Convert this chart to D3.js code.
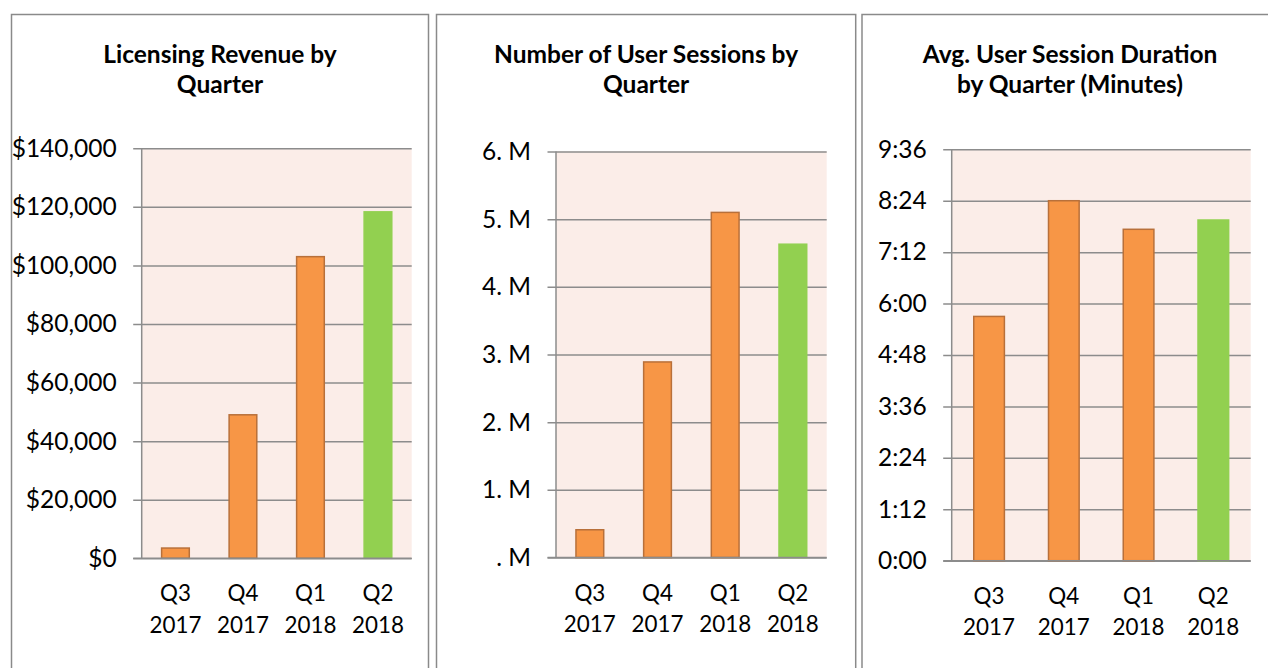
<!DOCTYPE html>
<html>
<head>
<meta charset="utf-8">
<script src="https://cdn.jsdelivr.net/npm/d3@7"></script>
<style>
  html, body { margin: 0; padding: 0; background: #ffffff; }
  svg { display: block; font-family: Lato, "Open Sans", sans-serif; }
</style>
</head>
<body>
<svg id="chart" width="1268" height="668"></svg>
<script>
// ---- data ----
const quarters = ["Q3 2017", "Q4 2017", "Q1 2018", "Q2 2018"];
const revenue = [3500, 49000, 103000, 118300];
const sessions = [410000, 2890000, 5100000, 4630000];
const durationSeconds = [342, 504, 464, 477];
const isCurrent = [false, false, false, true];

const revenueTicks = [0, 20000, 40000, 60000, 80000, 100000, 120000, 140000];
const sessionTicks = [0, 1000000, 2000000, 3000000, 4000000, 5000000, 6000000];
const durationTicks = [0, 72, 144, 216, 288, 360, 432, 504, 576];

const titles = [
  ["Licensing Revenue by", "Quarter"],
  ["Number of User Sessions by", "Quarter"],
  ["Avg. User Session Duration", "by Quarter (Minutes)"]
];

// ---- formatters ----
const fmtRevenue = v => "$" + d3.format(",")(v);
const fmtSessions = v => (v === 0 ? "" : String(v / 1e6)) + ". M";
const fmtDuration = v => Math.floor(v / 60) + ":" + String(v % 60).padStart(2, "0");

// ---- layout ----
const panels = [
  { box: [11.5, 14.5, 417, 700], plot: { x0: 141.7, x1: 411.7, y0: 148.3, y1: 558.3 },
    values: revenue, ticks: revenueTicks, fmt: fmtRevenue, title: titles[0] },
  { box: [436.5, 14.5, 419.2, 700], plot: { x0: 556, x1: 826.7, y0: 151.5, y1: 557.5 },
    values: sessions, ticks: sessionTicks, fmt: fmtSessions, title: titles[1] },
  { box: [862, 14.5, 416, 700], plot: { x0: 951.7, x1: 1250.7, y0: 149.3, y1: 560.7 },
    values: durationSeconds, ticks: durationTicks, fmt: fmtDuration, title: titles[2] }
];

const svg = d3.select("#chart");
const gridColor = "#8c8c8c";

panels.forEach(p => {
  const g = svg.append("g");
  const [bx, by, bw, bh] = p.box;
  g.append("rect")
    .attr("x", bx).attr("y", by).attr("width", bw).attr("height", bh)
    .attr("fill", "#ffffff").attr("stroke", "#8a8a8a").attr("stroke-width", 1.5);

  // title
  const cx = bx + bw / 2;
  const t = g.append("text").attr("text-anchor", "middle")
    .attr("font-weight", "bold").attr("font-size", 24.5).attr("fill", "#000");
  p.title.forEach((line, i) => {
    t.append("tspan").attr("x", cx).attr("y", 63 + i * 30).text(line);
  });

  const { x0, x1, y0, y1 } = p.plot;
  const x = d3.scaleBand().domain(quarters).range([x0, x1])
    .paddingInner(0.59).paddingOuter(0.295);
  const y = d3.scaleLinear().domain([p.ticks[0], p.ticks[p.ticks.length - 1]]).range([y1, y0]);

  // plot background
  g.append("rect").attr("x", x0).attr("y", y0)
    .attr("width", x1 - x0).attr("height", y1 - y0).attr("fill", "#fbede8");

  // y axis with gridlines
  const yAxis = d3.axisLeft(y).tickValues(p.ticks).tickFormat(p.fmt)
    .tickSizeInner(-(x1 - x0)).tickSizeOuter(0).tickPadding(25);
  const ya = g.append("g").attr("transform", `translate(${x0},0)`).call(yAxis);
  ya.select(".domain").remove();
  ya.selectAll(".tick line").attr("x1", -8.5).attr("stroke", gridColor).attr("stroke-width", 1.5);
  ya.selectAll(".tick text").attr("font-size", 24.5).attr("fill", "#000")
    .attr("font-family", "Lato, sans-serif");

  // vertical axis line
  g.append("line").attr("x1", x0).attr("x2", x0).attr("y1", y0).attr("y2", y1)
    .attr("stroke", gridColor).attr("stroke-width", 1.5);

  // bars
  g.selectAll("rect.bar").data(p.values).join("rect").attr("class", "bar")
    .attr("x", (d, i) => x(quarters[i]))
    .attr("width", x.bandwidth())
    .attr("y", d => y(d))
    .attr("height", d => y(0) - y(d))
    .attr("fill", (d, i) => isCurrent[i] ? "#92d050" : "#f79646")
    .attr("stroke", (d, i) => isCurrent[i] ? "#92d050" : "#b8703a")
    .attr("stroke-width", 1.5);

  // baseline axis line
  g.append("line").attr("x1", x0 - 8.5).attr("x2", x1).attr("y1", y1).attr("y2", y1)
    .attr("stroke", gridColor).attr("stroke-width", 1.5);

  // x labels (two lines)
  const xAxis = d3.axisBottom(x).tickSize(0).tickFormat("");
  const xa = g.append("g").attr("transform", `translate(0,${y1})`).call(xAxis);
  xa.select(".domain").remove();
  xa.selectAll(".tick").each(function (q) {
    const parts = q.split(" ");
    const tx = d3.select(this).append("text").attr("text-anchor", "middle")
      .attr("font-size", 22.4).attr("fill", "#000").attr("font-family", "Lato, sans-serif");
    parts.forEach((s, i) => tx.append("tspan").attr("x", 0).attr("y", 43 + i * 31.5).text(s));
  });
});
</script>
</body>
</html>
